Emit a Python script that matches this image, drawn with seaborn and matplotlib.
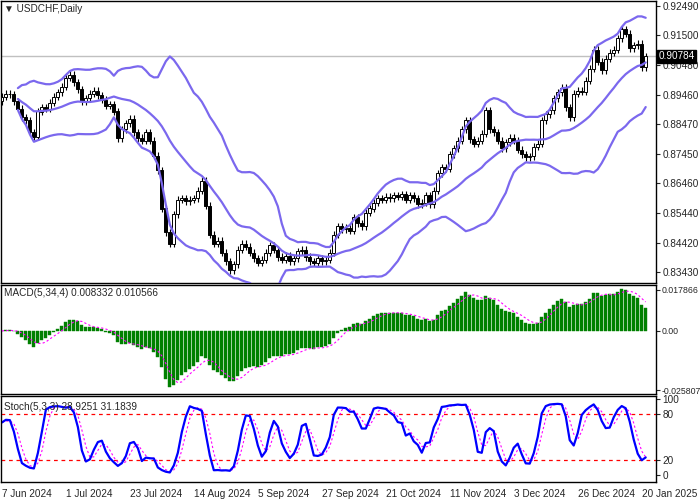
import numpy as np
import pandas as pd
import matplotlib
matplotlib.use("Agg")
import matplotlib.pyplot as plt
import seaborn as sns

closes = [
 .8940,.8950,.8948,.8925,.8900,.8870,.8860,.8820,.8805,.8890,
 .8905,.8900,.8920,.8940,.8955,.8975,.9005,.9015,.8990,.8965,
 .8925,.8935,.8950,.8960,.8945,.8930,.8910,.8915,.8890,.8800,
 .8830,.8850,.8865,.8820,.8800,.8790,.8820,.8790,.8740,.8690,
 .8560,.8480,.8440,.8540,.8590,.8595,.8585,.8590,.8595,.8620,
 .8655,.8570,.8470,.8440,.8450,.8410,.8380,.8350,.8370,.8420,
 .8440,.8430,.8410,.8390,.8375,.8385,.8410,.8435,.8420,.8395,
 .8385,.8400,.8380,.8390,.8415,.8420,.8395,.8380,.8375,.8390,
 .8380,.8385,.8410,.8470,.8500,.8490,.8495,.8485,.8530,.8510,
 .8500,.8545,.8560,.8580,.8595,.8590,.8600,.8595,.8605,.8600,
 .8608,.8590,.8605,.8595,.8575,.8580,.8605,.8575,.8620,.8680,
 .8700,.8695,.8745,.8765,.8790,.8830,.8860,.8795,.8780,.8790,
 .8815,.8895,.8830,.8820,.8790,.8765,.8785,.8800,.8790,.8760,
 .8745,.8735,.8738,.8770,.8780,.8860,.8880,.8895,.8935,.8955,
 .8970,.8905,.8870,.8950,.8960,.8958,.8995,.9035,.9100,.9060,
 .9030,.9070,.9090,.9100,.9140,.9170,.9155,.9105,.9115,.9120,
 .9040,.9078]
first_open = .8925
wick = 0.0012

price_ticks = [0.92490, 0.91500, 0.90480, 0.89460, 0.88470, 0.87450, 0.86460, 0.85440, 0.84420, 0.83430]
last_price = 0.90784
macd_ticks = [0.017866, 0.0, -0.025807]
macd_tick_labels = ["0.017866", "0.00", "-0.025807"]
stoch_ticks = [100, 80, 20, 0]
date_labels = ["7 Jun 2024", "1 Jul 2024", "23 Jul 2024", "14 Aug 2024", "5 Sep 2024",
               "27 Sep 2024", "21 Oct 2024", "11 Nov 2024", "3 Dec 2024", "26 Dec 2024", "20 Jan 2025"]
date_pos = [0, 16, 32, 48, 64, 80, 96, 112, 128, 144, 160]

c = pd.Series(closes)
o = c.shift(1).fillna(first_open)
h = np.maximum(o, c) + wick
l = np.minimum(o, c) - wick
n = len(c)
idx = np.arange(n)

mid = c.rolling(20, min_periods=5).mean()
sd = c.rolling(20, min_periods=5).std(ddof=0)
up, lo = mid + 2 * sd, mid - 2 * sd
macd = c.ewm(span=5, adjust=False).mean() - c.ewm(span=34, adjust=False).mean()
sig = macd.rolling(4, min_periods=1).mean()
hh = pd.Series(h).rolling(5, min_periods=1).max()
ll = pd.Series(l).rolling(5, min_periods=1).min()
k = 100 * (c - ll).rolling(3, min_periods=1).sum() / (hh - ll).rolling(3, min_periods=1).sum()
d = k.rolling(3, min_periods=1).mean()

sns.set_style("white")
plt.rcParams['font.family'] = ['Liberation Sans', 'DejaVu Sans']
fs = 7.2
fig = plt.figure(figsize=(7, 5), dpi=100)
W = 655 / 700
ax1 = fig.add_axes([0.001, 1 - 283 / 500, W, 282 / 500])
ax2 = fig.add_axes([0.001, 1 - 394 / 500, W, 109 / 500], sharex=ax1)
ax3 = fig.add_axes([0.001, 1 - 482 / 500, W, 86 / 500], sharex=ax1)
band_col = "#7b68ee"

ax1.vlines(idx, l, h, color="black", lw=0.8, zorder=2)
upm = (c >= o).values
ax1.bar(idx[upm], (c - o)[upm].abs() + 1e-5, bottom=o[upm], width=0.7,
        color="white", edgecolor="black", lw=0.7, zorder=3)
ax1.bar(idx[~upm], (o - c)[~upm].abs() + 1e-5, bottom=c[~upm], width=0.7,
        color="black", edgecolor="black", lw=0.7, zorder=3)
for s in (up, mid, lo):
    sns.lineplot(x=idx, y=s.values, ax=ax1, color=band_col, lw=1.6, zorder=4)
ax1.axhline(last_price, color="#c0c0c0", lw=1, zorder=1)
ax1.set_ylim(0.83066, 0.92660)
ax1.set_xlim(-0.3, 163.5)
ax1.text(0.005, 0.99, "\u25BC USDCHF,Daily", transform=ax1.transAxes, va="top", fontsize=fs)

ax2.bar(idx, macd, width=0.75, color="#008000", edgecolor="#008000", lw=0.3, zorder=2)
sns.lineplot(x=idx, y=sig.values, ax=ax2, color="magenta", lw=0.8, linestyle=(0, (2, 2)), zorder=3)
ax2.set_ylim(-0.0275, 0.0200)
ax2.text(0.005, 0.97, "MACD(5,34,4) 0.008332 0.010566", transform=ax2.transAxes, va="top", fontsize=fs)

ax3.axhline(80, color="red", lw=0.9, linestyle=(0, (3, 3)))
ax3.axhline(20, color="red", lw=0.9, linestyle=(0, (3, 3)))
sns.lineplot(x=idx, y=d.values, ax=ax3, color="magenta", lw=0.8, linestyle=(0, (2, 2)))
sns.lineplot(x=idx, y=k.values, ax=ax3, color="#0000ff", lw=1.6)
ax3.set_ylim(-9, 104)
ax3.text(0.005, 0.93, "Stoch(5,3,3) 28.9251 31.1839", transform=ax3.transAxes, va="top", fontsize=fs)

for ax in (ax1, ax2, ax3):
    for sp in ax.spines.values():
        sp.set_color("black"); sp.set_linewidth(1)
    ax.yaxis.tick_right()
    ax.tick_params(axis="y", labelsize=fs, length=3, pad=2, direction="out", right=True, left=False)
    ax.set_xlabel(""); ax.set_ylabel("")
ax2.tick_params(axis="y", labelsize=6.3, pad=1.5)
ax1.set_yticks(price_ticks)
ax1.set_yticklabels([f"{v:.5f}" for v in price_ticks])
ax1.text(1.004, last_price, f"{last_price:.5f}", transform=ax1.get_yaxis_transform(),
         va="center", ha="left", fontsize=fs, color="white",
         bbox=dict(boxstyle="square,pad=0.15", fc="black", ec="black"))
ax2.set_yticks(macd_ticks); ax2.set_yticklabels(macd_tick_labels)
ax3.set_yticks(stoch_ticks); ax3.set_yticklabels([str(v) for v in stoch_ticks])
plt.setp(ax1.get_xticklabels(), visible=False)
plt.setp(ax2.get_xticklabels(), visible=False)
ax1.tick_params(axis="x", length=0); ax2.tick_params(axis="x", length=0)
ax3.set_xticks(date_pos)
ax3.set_xticklabels(date_labels, ha="left", fontsize=fs)
ax3.tick_params(axis="x", length=3, pad=2)
fig.savefig("out.png", dpi=100)
